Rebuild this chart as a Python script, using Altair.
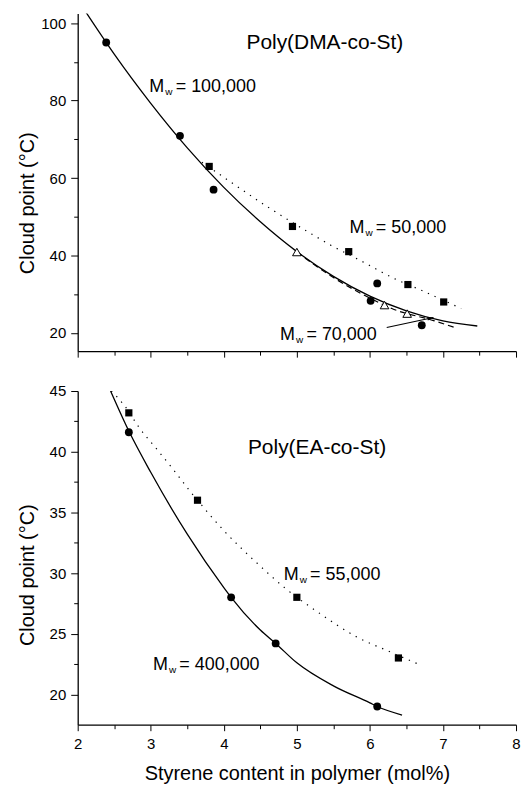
import altair as alt
import pandas as pd

FONT = "Liberation Sans"

# ---------------- Top panel: Poly(DMA-co-St) ----------------
dma_100k_x = [2.39, 3.40, 3.86, 6.01, 6.10, 6.71]
dma_100k_y = [95.0, 70.9, 57.0, 28.3, 32.8, 22.0]
dma_50k_x = [3.80, 4.94, 5.71, 6.52, 7.01]
dma_50k_y = [63.0, 47.5, 41.0, 32.5, 28.0]
dma_70k_x = [5.00, 6.20, 6.51]
dma_70k_y = [40.9, 27.2, 25.0]

dma_100k_fit_x = [2.11, 2.5, 3.0, 3.5, 4.0, 4.5, 5.0, 5.5, 6.0, 6.5, 7.0, 7.47]
dma_100k_fit_y = [102.9, 92.0, 79.3, 67.8, 57.6, 48.7, 41.0, 34.6, 29.5, 25.7, 23.1, 21.8]
dma_50k_fit_x = [3.70, 4.10, 4.58, 5.17, 5.47, 5.87, 6.35, 6.67, 7.25]
dma_50k_fit_y = [64.1, 58.9, 52.8, 45.9, 42.6, 38.7, 33.9, 31.3, 26.3]
dma_70k_fit_x = [5.0, 5.5, 6.0, 6.3, 6.87, 7.18]
dma_70k_fit_y = [40.9, 34.3, 29.0, 26.3, 23.2, 21.3]

arrow_x = [6.23, 6.87]
arrow_y = [21.4, 24.0]

top_title = ["Poly(DMA-co-St)"]
top_title_x = [4.31]
top_title_y = [93.3]
top_mw_text = ["= 100,000", "= 50,000", "= 70,000"]
top_mw_x = [2.98, 5.72, 4.77]
top_mw_y = [82.2, 45.8, 18.2]

# ---------------- Bottom panel: Poly(EA-co-St) ----------------
ea_400k_x = [2.70, 4.10, 4.71, 6.10]
ea_400k_y = [41.6, 28.0, 24.2, 19.0]
ea_55k_x = [2.70, 3.64, 5.00, 6.39]
ea_55k_y = [43.2, 36.0, 28.0, 23.0]

ea_400k_fit_x = [2.45, 2.7, 3.0, 3.5, 4.0, 4.1, 4.5, 4.71, 5.0, 5.5, 6.0, 6.1, 6.44]
ea_400k_fit_y = [45.0, 41.7, 38.3, 33.2, 28.8, 28.0, 25.3, 24.2, 22.6, 20.7, 19.3, 19.0, 18.3]
ea_55k_fit_x = [2.46, 2.64, 2.84, 3.07, 3.30, 3.53, 3.64, 4.0, 4.44, 4.83, 5.33, 5.83, 6.24, 6.70]
ea_55k_fit_y = [45.0, 43.8, 42.0, 40.3, 38.6, 36.8, 36.0, 33.5, 30.9, 28.8, 26.6, 24.7, 23.6, 22.4]

bot_title = ["Poly(EA-co-St)"]
bot_title_x = [4.33]
bot_title_y = [39.77]
bot_mw_text = ["= 55,000", "= 400,000"]
bot_mw_x = [4.82, 3.03]
bot_mw_y = [29.45, 22.0]

# ---------------- axes ----------------
x_major = [2, 3, 4, 5, 6, 7, 8]
x_minor = [2.5, 3.5, 4.5, 5.5, 6.5, 7.5]
top_y_major = [20, 40, 60, 80, 100]
top_y_minor = [30, 50, 70, 90]
bot_y_major = [20, 25, 30, 35, 40, 45]
bot_y_minor = [22.5, 27.5, 32.5, 37.5, 42.5]

X_TITLE = "Styrene content in polymer (mol%)"
Y_TITLE = "Cloud point (°C)"

W = 440


def df(xs, ys):
    return pd.DataFrame({"x": xs, "y": ys})


def tdf(texts, xs, ys):
    return pd.DataFrame({"t": texts, "x": xs, "y": ys})


def make_panel(ydomain, ymaj, ymin, show_x, title_y, height,
               curves, pts, texts, mws, arrow=None):
    xs = alt.Scale(domain=[2, 8], nice=False, zero=False)
    ys = alt.Scale(domain=ydomain, nice=False, zero=False)

    if show_x:
        xaxis = alt.Axis(values=x_major, tickSize=6, labelFontSize=15,
                         labelPadding=6, labelFlush=False, title=X_TITLE,
                         titleFontSize=20, titleFontWeight="normal",
                         titleY=54.7, titleBaseline="alphabetic", orient="bottom",
                         domainColor="black", tickColor="black",
                         labelColor="black", titleColor="black",
                         domainWidth=1.3, grid=False)
    else:
        xaxis = alt.Axis(values=x_major, tickSize=6, labels=False, title=None,
                         orient="bottom", domainColor="black", tickColor="black",
                         domainWidth=1.3, grid=False)
    yaxis = alt.Axis(values=ymaj, tickSize=7, labelFontSize=15, labelPadding=5,
                     title=Y_TITLE, titleFontSize=20, titleFontWeight="normal",
                     titleX=-44.2, titleY=title_y, titleBaseline="alphabetic",
                     titleAlign="center", titleAngle=270, orient="left",
                     domainColor="black", tickColor="black",
                     labelColor="black", titleColor="black",
                     domainWidth=1.3, grid=False, labelFlush=False)

    def enc_none():
        return dict(x=alt.X("x:Q", scale=xs, axis=None),
                    y=alt.Y("y:Q", scale=ys, axis=None))

    layers = []
    # axis-carrying invisible layers
    layers.append(alt.Chart(curves[0][0]).mark_point(opacity=0, clip=True).encode(
        x=alt.X("x:Q", scale=xs, axis=xaxis),
        y=alt.Y("y:Q", scale=ys, axis=yaxis)))
    layers.append(alt.Chart(curves[0][0]).mark_point(opacity=0, clip=True).encode(
        x=alt.X("x:Q", scale=xs, axis=alt.Axis(values=x_minor, tickSize=4, labels=False,
                                               domain=False, title=None, orient="bottom",
                                               tickColor="black", grid=False)),
        y=alt.Y("y:Q", scale=ys, axis=alt.Axis(values=ymin, tickSize=4, labels=False,
                                               domain=False, title=None, orient="left",
                                               tickColor="black", grid=False))))

    for (cdf, dash) in curves:
        kw = {"strokeDash": dash} if dash is not None else {}
        m = alt.Chart(cdf).mark_line(color="black",
                                     strokeWidth=1.3 if dash is None else 1.2,
                                     interpolate="monotone", clip=True, **kw)
        layers.append(m.encode(**enc_none()))

    for (pdf, kind) in pts:
        if kind == "circle":
            m = alt.Chart(pdf).mark_point(shape="circle", filled=True, color="black", size=62, opacity=1)
        elif kind == "square":
            m = alt.Chart(pdf).mark_point(shape="square", filled=True, color="black", size=52, opacity=1)
        else:
            m = alt.Chart(pdf).mark_point(shape="triangle-up", filled=True, fill="white",
                                          stroke="black", strokeWidth=1, size=75, opacity=1)
        layers.append(m.encode(**enc_none()))

    if arrow is not None:
        layers.append(alt.Chart(arrow).mark_line(color="black", strokeWidth=1.1).encode(**enc_none()))
        layers.append(alt.Chart(arrow.tail(1)).mark_point(
            shape="M-1,-0.3L0,0L-1,0.3Z", filled=True, color="black", size=150,
            angle=347.8, opacity=1).encode(**enc_none()))

    for t in texts:
        layers.append(alt.Chart(t).mark_text(
            align="left", baseline="alphabetic", fontSize=21, font=FONT, color="black").encode(
            text="t:N", **enc_none()))

    for mdf in mws:
        base = alt.Chart(mdf).encode(**enc_none())
        layers.append(base.mark_text(align="left", baseline="alphabetic", fontSize=18,
                                     font=FONT, color="black", text="M"))
        layers.append(base.mark_text(align="left", baseline="alphabetic", fontSize=10,
                                     font=FONT, color="black", text="w", dx=16, dy=3))
        layers.append(base.mark_text(align="left", baseline="alphabetic", fontSize=18,
                                     font=FONT, color="black", dx=26.5).encode(text="t:N"))

    return alt.layer(*layers).resolve_axis(x="independent", y="independent").properties(
        width=W, height=height)


top = make_panel(
    [15.3, 102.5], top_y_major, top_y_minor, False, 190, 339,
    curves=[(df(dma_100k_fit_x, dma_100k_fit_y), None),
            (df(dma_50k_fit_x, dma_50k_fit_y), [1.3, 6]),
            (df(dma_70k_fit_x, dma_70k_fit_y), [6, 4])],
    pts=[(df(dma_100k_x, dma_100k_y), "circle"),
         (df(dma_50k_x, dma_50k_y), "square"),
         (df(dma_70k_x, dma_70k_y), "triangle")],
    texts=[tdf(top_title, top_title_x, top_title_y)],
    mws=[tdf(top_mw_text, top_mw_x, top_mw_y)],
    arrow=df(arrow_x, arrow_y),
)

bottom = make_panel(
    [17.5, 45], bot_y_major, bot_y_minor, True, 184.4, 335,
    curves=[(df(ea_400k_fit_x, ea_400k_fit_y), None),
            (df(ea_55k_fit_x, ea_55k_fit_y), [1.3, 6])],
    pts=[(df(ea_400k_x, ea_400k_y), "circle"),
         (df(ea_55k_x, ea_55k_y), "square")],
    texts=[tdf(bot_title, bot_title_x, bot_title_y)],
    mws=[tdf(bot_mw_text, bot_mw_x, bot_mw_y)],
)

chart = alt.vconcat(top, bottom, spacing=40, bounds="flush").properties(
    padding={"left": 17, "top": 12, "right": 0, "bottom": 0},
    background="white",
).configure_view(strokeWidth=0).configure_axis(
    labelFont=FONT, titleFont=FONT
).configure_text(font=FONT)

chart.save("out.html", embed_options={"renderer": "svg", "actions": False})
